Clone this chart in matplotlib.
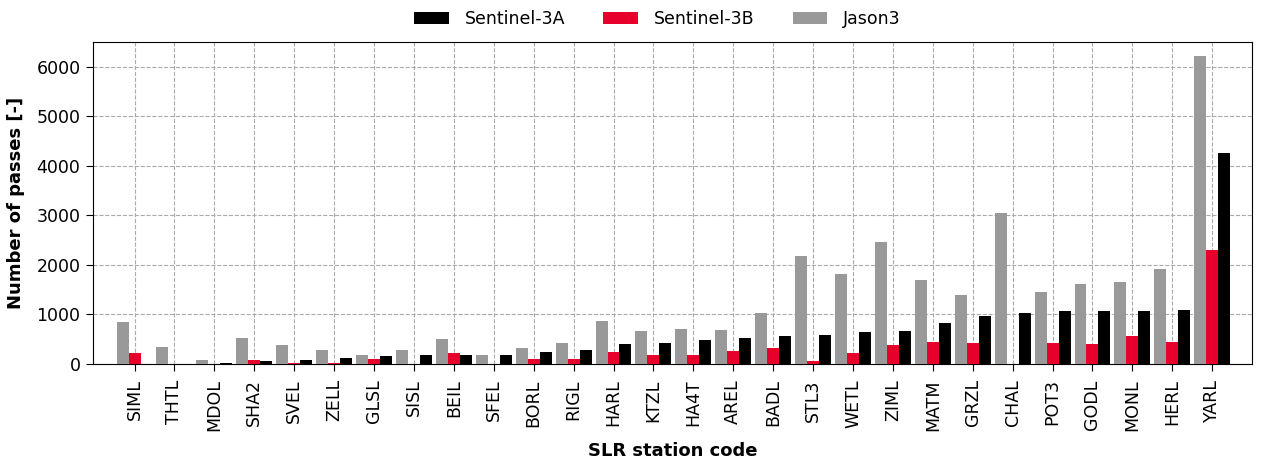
import matplotlib
matplotlib.use("Agg")
import matplotlib.pyplot as plt
import numpy as np

stations = ["SIML", "THTL", "MDOL", "SHA2", "SVEL", "ZELL", "GLSL", "SISL", "BEIL", "SFEL",
            "BORL", "RIGL", "HARL", "KTZL", "HA4T", "AREL", "BADL", "STL3", "WETL", "ZIML",
            "MATM", "GRZL", "CHAL", "POT3", "GODL", "MONL", "HERL", "YARL"]
jason3 = [840, 343, 73, 525, 390, 275, 182, 289, 505, 182,
          316, 416, 869, 660, 713, 687, 1022, 2174, 1818, 2457,
          1703, 1400, 3050, 1455, 1616, 1657, 1925, 6214]
sentinel3b = [222, 0, 0, 73, 25, 15, 101, 0, 222, 0,
              101, 101, 235, 182, 182, 262, 323, 53, 222, 376,
              444, 424, 0, 424, 397, 558, 444, 2309]
sentinel3a = [0, 0, 30, 53, 73, 127, 154, 182, 182, 182,
              235, 289, 397, 424, 477, 525, 558, 586, 638, 660,
              828, 962, 1030, 1063, 1063, 1063, 1083, 4263]

fig = plt.figure(figsize=(12.64, 4.59), dpi=100)
ax = fig.add_axes([0.0736, 0.207, 0.917, 0.7015])

x = np.arange(len(stations))
w = 0.3
ax.bar(x + w, sentinel3a, w, color="black", label="Sentinel-3A", zorder=3)
ax.bar(x, sentinel3b, w, color="#e8002d", label="Sentinel-3B", zorder=3)
ax.bar(x - w, jason3, w, color="#999999", label="Jason3", zorder=3)

ax.set_xticks(x)
ax.set_xticklabels(stations, rotation=90, fontsize=12.5)
ax.tick_params(axis="y", labelsize=12.5, length=5, pad=4)
ax.tick_params(axis="x", length=5, pad=6)
ax.set_xlim(-1.04, len(stations) - 1 + 1.0)
ax.set_ylim(0, 6500)
ax.set_yticks([0, 1000, 2000, 3000, 4000, 5000, 6000])
ax.grid(True, linestyle="--", color="#aaaaaa", linewidth=0.8, zorder=0)
ax.set_axisbelow(True)
ax.set_ylabel("Number of passes [-]", fontsize=13, fontweight="bold", labelpad=8)
ax.set_xlabel("SLR station code", fontsize=13, fontweight="bold", labelpad=8)

ax.legend(loc="lower center", bbox_to_anchor=(0.487, 1.0), ncol=3, frameon=False,
          fontsize=12.5, handlelength=2.0, handleheight=0.65, handletextpad=0.9,
          columnspacing=2.2, borderaxespad=0.4)

fig.savefig("out.png", dpi=100)
